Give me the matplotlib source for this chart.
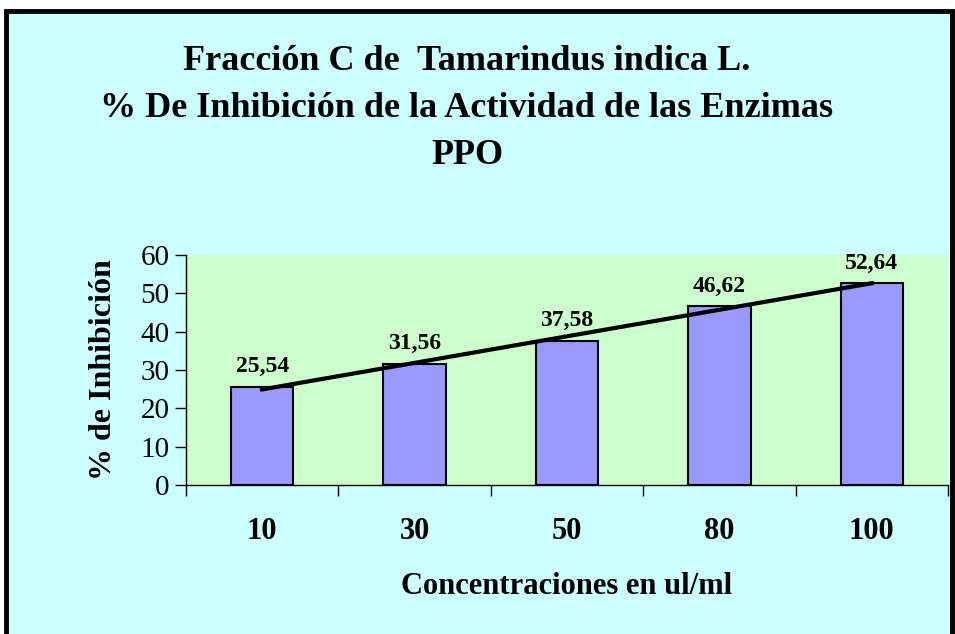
import numpy as np
import matplotlib
matplotlib.use("Agg")
import matplotlib.pyplot as plt
from matplotlib.patches import Rectangle

# datos
concentraciones = ["10", "30", "50", "80", "100"]
inhibicion = [25.54, 31.56, 37.58, 46.62, 52.64]
etiquetas = ["25,54", "31,56", "37,58", "46,62", "52,64"]
yticks = [0, 10, 20, 30, 40, 50, 60]

plt.rcParams["font.family"] = ["Liberation Serif", "DejaVu Serif"]

W, H = 955, 634
fig = plt.figure(figsize=(W / 100, H / 100), dpi=100, facecolor="white")

# fondo cian con borde negro (el borde inferior queda fuera de la imagen)
fondo = Rectangle((6 / W, -0.05), 946 / W, 1.05 - 11 / H, transform=fig.transFigure,
                  facecolor="#CCFFFF", edgecolor="black", linewidth=3.5, zorder=-10)
fig.patches.append(fondo)

ax = fig.add_axes([186 / W, (H - 485) / H, 762 / W, 230 / H])
ax.set_facecolor("#CCFFCC")

x = np.arange(len(concentraciones))
ax.bar(x, inhibicion, width=0.41, color="#9999FF", edgecolor="black", linewidth=1.5, zorder=2)

# linea de tendencia lineal
m, b = np.polyfit(x, inhibicion, 1)
ax.plot([x[0], x[-1]], [m * x[0] + b, m * x[-1] + b], color="black", linewidth=3, zorder=3)

for xi, v, lab in zip(x, inhibicion, etiquetas):
    ax.annotate(lab, (xi, v), xytext=(0, 7), textcoords="offset points",
                ha="center", va="bottom", fontsize=17, fontweight="bold", zorder=4)

ax.set_xlim(-0.5, len(x) - 0.5)
ax.set_ylim(0, 60)
ax.set_yticks(yticks)
ax.set_yticklabels([str(t) for t in yticks], fontsize=21)

# marcas del eje x entre categorias, etiquetas en el centro
ax.set_xticks(np.arange(-0.5, len(x)), labels=[""] * (len(x) + 1))
ax.set_xticks(x, labels=concentraciones, minor=True)
ax.tick_params(axis="x", which="major", direction="out", length=8, width=1)
ax.tick_params(axis="x", which="minor", length=0, pad=23, labelsize=22)
for t in ax.get_xticklabels(minor=True):
    t.set_fontweight("bold")
ax.tick_params(axis="y", direction="out", length=8, width=1, pad=4)

for s in ["top", "right"]:
    ax.spines[s].set_visible(False)
ax.spines["left"].set_linewidth(1)
ax.spines["bottom"].set_linewidth(1)

ax.set_ylabel("% de Inhibición", fontsize=23, fontweight="bold", labelpad=16)
ax.set_xlabel("Concentraciones en ul/ml", fontsize=22, fontweight="bold", labelpad=19)

titulo = ["Fracción C de  Tamarindus indica L.",
          "% De Inhibición de la Actividad de las Enzimas",
          "PPO"]
for i, linea in enumerate(titulo):
    fig.text(467 / W, 1 - (61 + 47.5 * i) / H, linea, ha="center", va="center",
             fontsize=26, fontweight="bold")

fig.savefig("out.png", dpi=100, facecolor=fig.get_facecolor())
